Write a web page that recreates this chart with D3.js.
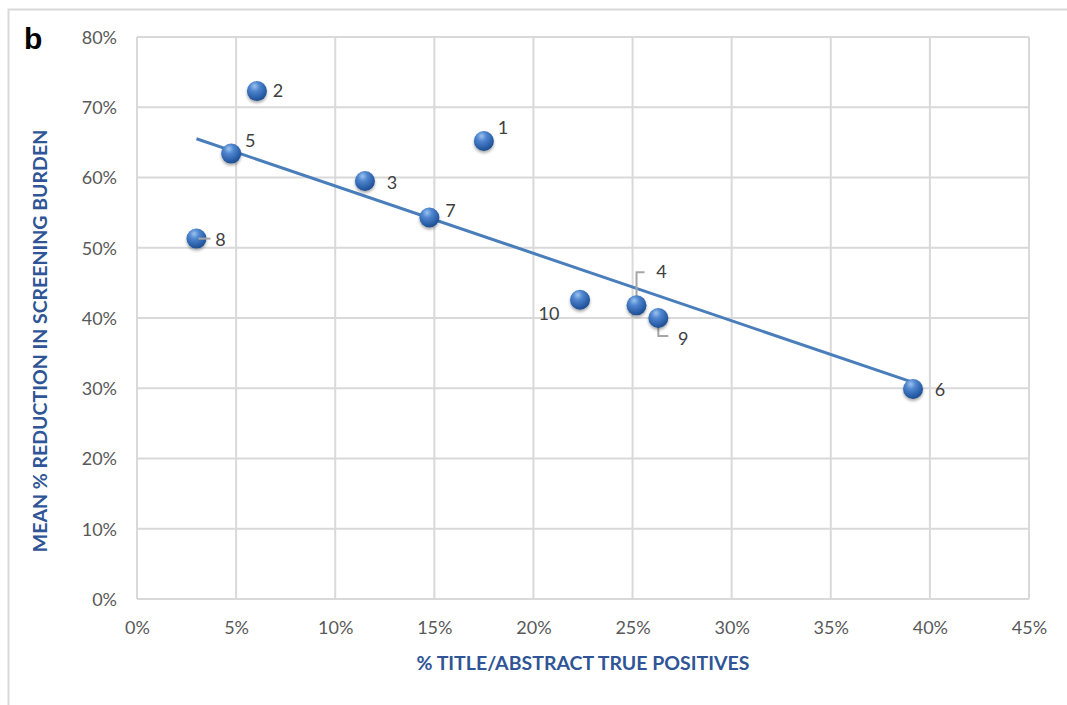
<!DOCTYPE html>
<html>
<head>
<meta charset="utf-8">
<script src="https://cdn.jsdelivr.net/npm/d3@7"></script>
<style>
  html, body { margin: 0; padding: 0; background: #fff; }
  svg { display: block; }
</style>
</head>
<body>
<svg id="chart" width="1067" height="705"></svg>
<script>
// Studies: % title/abstract true positives vs mean % reduction in screening burden
const studyIds   = ["1", "2", "3", "4", "5", "6", "7", "8", "9", "10"];
const truePosPct = [17.5, 6.05, 11.5, 25.2, 4.75, 39.15, 14.75, 3.0, 26.3, 22.35];
const reductionPct = [65.2, 72.3, 59.5, 41.8, 63.4, 29.9, 54.3, 51.3, 40.0, 42.6];

const xTicks = [0, 5, 10, 15, 20, 25, 30, 35, 40, 45];
const yTicks = [0, 10, 20, 30, 40, 50, 60, 70, 80];

// label placement per study: dx, dy from point, optional leader path
const labelPos = {
  "1":  { dx: 19,  dy: -13 },
  "2":  { dx: 21,  dy: 0 },
  "3":  { dx: 27,  dy: 2 },
  "4":  { dx: 25,  dy: -34, leader: "bracketUp" },
  "5":  { dx: 19,  dy: -13 },
  "6":  { dx: 27,  dy: 1 },
  "7":  { dx: 21,  dy: -7 },
  "8":  { dx: 24,  dy: 1,   leader: "short" },
  "9":  { dx: 25,  dy: 21,  leader: "bracketDown" },
  "10": { dx: -31, dy: 14 }
};

const svg = d3.select("#chart");
const font = "Lato, 'Open Sans', sans-serif";

// outer frame (top and left edges)
svg.append("path")
  .attr("d", "M8.5,705 L8.5,9.5 L1067,9.5")
  .attr("fill", "none").attr("stroke", "#d9d9d9").attr("stroke-width", 2);

const plotLeft = 137, plotRight = 1029, plotTop = 37, plotBottom = 599;
const x = d3.scaleLinear().domain([0, 45]).range([plotLeft, plotRight]);
const y = d3.scaleLinear().domain([0, 80]).range([plotBottom, plotTop]);

// gradient for glossy markers
const defs = svg.append("defs");
const grad = defs.append("radialGradient").attr("id", "ball")
  .attr("cx", "40%").attr("cy", "30%").attr("r", "70%").attr("fx", "38%").attr("fy", "25%");
grad.append("stop").attr("offset", "0%").attr("stop-color", "#9cc3ef");
grad.append("stop").attr("offset", "35%").attr("stop-color", "#4f86cf");
grad.append("stop").attr("offset", "80%").attr("stop-color", "#2a5fa8");
grad.append("stop").attr("offset", "100%").attr("stop-color", "#1f4d8e");
const shadow = defs.append("filter").attr("id", "shadow").attr("x", "-50%").attr("y", "-50%").attr("width", "200%").attr("height", "200%");
shadow.append("feGaussianBlur").attr("in", "SourceAlpha").attr("stdDeviation", 1.5).attr("result", "b");
shadow.append("feOffset").attr("in", "b").attr("dx", 0).attr("dy", 2).attr("result", "o");
shadow.append("feComponentTransfer").attr("in", "o").attr("result", "s")
  .append("feFuncA").attr("type", "linear").attr("slope", 0.35);
const merge = shadow.append("feMerge");
merge.append("feMergeNode").attr("in", "s");
merge.append("feMergeNode").attr("in", "SourceGraphic");

// gridlines
const grid = svg.append("g").attr("stroke", "#d9d9d9").attr("stroke-width", 2);
grid.selectAll(".vx").data(xTicks).join("line").attr("class", "vx")
  .attr("x1", d => x(d)).attr("x2", d => x(d)).attr("y1", plotTop).attr("y2", plotBottom);
grid.selectAll(".hy").data(yTicks).join("line").attr("class", "hy")
  .attr("x1", plotLeft).attr("x2", plotRight).attr("y1", d => y(d)).attr("y2", d => y(d));

// axes (labels only)
const xAxis = svg.append("g").attr("transform", `translate(0,${plotBottom})`)
  .call(d3.axisBottom(x).tickValues(xTicks).tickFormat(d => d + "%").tickSize(0).tickPadding(22));
const yAxis = svg.append("g").attr("transform", `translate(${plotLeft},0)`)
  .call(d3.axisLeft(y).tickValues(yTicks).tickFormat(d => d + "%").tickSize(0).tickPadding(20));
[xAxis, yAxis].forEach(a => {
  a.select(".domain").remove();
  a.selectAll("text").attr("fill", "#595959").attr("font-size", 18).attr("font-family", font);
});
yAxis.selectAll("text").attr("dy", "0.35em");

// axis titles
svg.append("text")
  .attr("x", (plotLeft + plotRight) / 2).attr("y", 670)
  .attr("text-anchor", "middle").attr("font-family", font).attr("font-weight", "bold")
  .attr("font-size", 19.5).attr("fill", "#2f5597")
  .text("% TITLE/ABSTRACT TRUE POSITIVES");
svg.append("text")
  .attr("transform", `translate(47,${(plotTop + plotBottom) / 2 + 23}) rotate(-90)`)
  .attr("text-anchor", "middle").attr("font-family", font).attr("font-weight", "bold")
  .attr("font-size", 19.5).attr("fill", "#2f5597")
  .text("MEAN % REDUCTION IN SCREENING BURDEN");

// panel letter
svg.append("text").attr("x", 24).attr("y", 49)
  .attr("font-family", "Liberation Sans, Arial, sans-serif").attr("font-weight", "bold")
  .attr("font-size", 30).attr("fill", "#000").text("b");

// least-squares trendline over the studies
const pts = studyIds.map((id, i) => ({ id, x: truePosPct[i], y: reductionPct[i] }));
const mx = d3.mean(pts, d => d.x), my = d3.mean(pts, d => d.y);
const slope = d3.sum(pts, d => (d.x - mx) * (d.y - my)) / d3.sum(pts, d => (d.x - mx) ** 2);
const intercept = my - slope * mx;
const [xmin, xmax] = d3.extent(pts, d => d.x);
svg.append("line")
  .attr("x1", x(xmin)).attr("y1", y(intercept + slope * xmin))
  .attr("x2", x(xmax)).attr("y2", y(intercept + slope * xmax))
  .attr("stroke", "#4a7ebb").attr("stroke-width", 3);

// leader lines for crowded labels
const leaders = svg.append("g").attr("fill", "none").attr("stroke", "#a6a6a6").attr("stroke-width", 2);
pts.forEach(p => {
  const lp = labelPos[p.id];
  const px = x(p.x), py = y(p.y);
  if (lp.leader === "bracketUp") {
    leaders.append("path").attr("d", `M${px},${py - 6} L${px},${py + lp.dy + 1} L${px + 8},${py + lp.dy + 1}`);
  } else if (lp.leader === "bracketDown") {
    leaders.append("path").attr("d", `M${px},${py + 6} L${px},${py + lp.dy - 3} L${px + 10},${py + lp.dy - 3}`);
  }
});

// markers
svg.append("g").selectAll("circle").data(pts).join("circle")
  .attr("cx", d => x(d.x)).attr("cy", d => y(d.y)).attr("r", 10)
  .attr("fill", "url(#ball)").attr("filter", "url(#shadow)");

// short leader drawn over the marker for study 8
pts.filter(p => labelPos[p.id].leader === "short").forEach(p => {
  svg.append("path").attr("d", `M${x(p.x) + 2},${y(p.y)} L${x(p.x) + 14},${y(p.y)}`)
    .attr("stroke", "#a6a6a6").attr("stroke-width", 2);
});

// data labels
svg.append("g").selectAll("text").data(pts).join("text")
  .attr("x", d => x(d.x) + labelPos[d.id].dx)
  .attr("y", d => y(d.y) + labelPos[d.id].dy)
  .attr("dy", "0.35em")
  .attr("text-anchor", "middle")
  .attr("font-family", font).attr("font-size", 18).attr("fill", "#404040")
  .text(d => d.id);
</script>
</body>
</html>
